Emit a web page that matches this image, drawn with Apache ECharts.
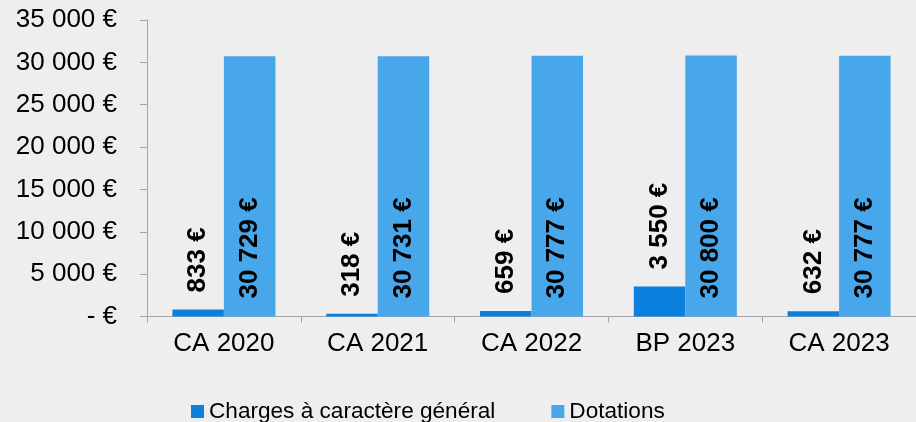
<!DOCTYPE html>
<html><head><meta charset="utf-8">
<script src="https://cdn.jsdelivr.net/npm/echarts@6/dist/echarts.min.js"></script>
<style>html,body{margin:0;padding:0;background:#eeeeee}#c{width:916px;height:422px}</style>
</head><body><div id="c"></div>
<script>
var categories = ['CA 2020', 'CA 2021', 'CA 2022', 'BP 2023', 'CA 2023'];
var charges = [833, 318, 659, 3550, 632];
var dotations = [30729, 30731, 30777, 30800, 30777];
var seriesNames = ['Charges à caractère général', 'Dotations'];
var yTicks = [0, 5000, 10000, 15000, 20000, 25000, 30000, 35000];

function fmt(v) {
  if (v === 0) return '- €';
  return String(v).replace(/\B(?=(\d{3})+(?!\d))/g, ' ') + ' €';
}
var FONT = '"Liberation Sans", Arial, sans-serif';
var chart = echarts.init(document.getElementById('c'), null, {renderer: 'canvas'});
chart.setOption({
  backgroundColor: '#eeeeee',
  animation: false,
  textStyle: {fontFamily: FONT},
  grid: {left: 147, right: -7, top: 20, bottom: 105.5, containLabel: false},
  legend: {
    left: 186, top: 395, itemWidth: 13, itemHeight: 13, itemGap: 56,
    icon: 'rect',
    textStyle: {fontFamily: FONT, fontSize: 22.6, color: '#000'},
    data: seriesNames
  },
  xAxis: {
    type: 'category', data: categories,
    axisLine: {lineStyle: {color: '#a6a6a6', width: 1}},
    axisTick: {show: true, alignWithLabel: false, length: 6, lineStyle: {color: '#a6a6a6'}},
    axisLabel: {fontFamily: FONT, fontSize: 26, color: '#000', margin: 14}
  },
  yAxis: {
    type: 'value', min: yTicks[0], max: yTicks[yTicks.length - 1], interval: 5000,
    axisLine: {show: true, lineStyle: {color: '#a6a6a6', width: 1}},
    axisTick: {show: true, length: 7, lineStyle: {color: '#a6a6a6'}},
    splitLine: {show: false},
    axisLabel: {fontFamily: FONT, fontSize: 26, color: '#000', margin: 30, formatter: fmt}
  },
  series: [
    {
      name: seriesNames[0], type: 'bar', data: charges,
      barGap: '0%', barCategoryGap: '33%',
      itemStyle: {color: '#0b80de'},
      label: {
        show: true, position: 'top', distance: 17, rotate: 90,
        align: 'left', verticalAlign: 'middle',
        fontFamily: FONT, fontSize: 26, fontWeight: 'bold', color: '#000',
        formatter: function (p) { return fmt(p.value); }
      }
    },
    {
      name: seriesNames[1], type: 'bar', data: dotations,
      barGap: '0%', barCategoryGap: '33%',
      itemStyle: {color: '#48a6ea'},
      label: {
        show: true, position: 'insideBottom', distance: 18, rotate: 90,
        align: 'left', verticalAlign: 'middle',
        fontFamily: FONT, fontSize: 26, fontWeight: 'bold', color: '#000',
        formatter: function (p) { return fmt(p.value); }
      }
    }
  ]
});
</script></body></html>
